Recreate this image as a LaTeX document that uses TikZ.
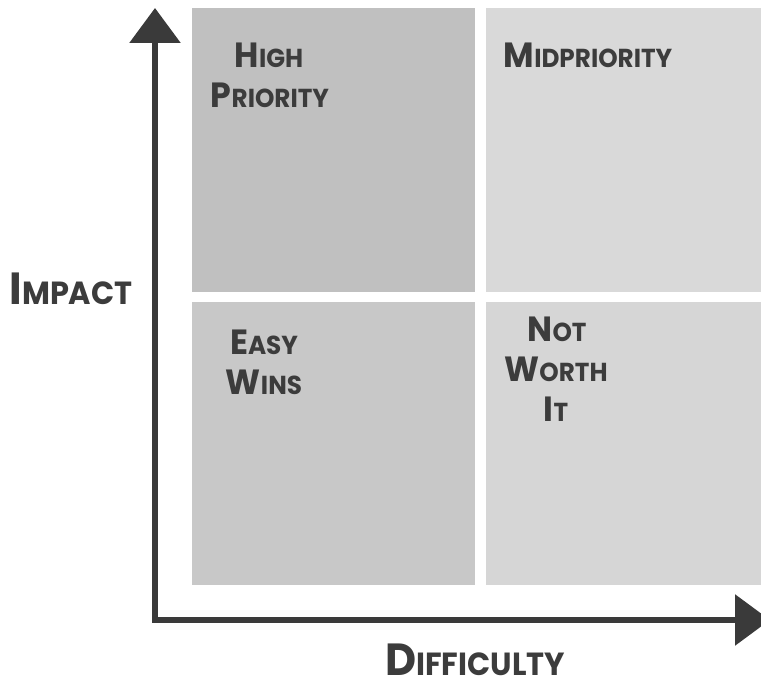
\documentclass[tikz,border=0pt]{standalone}
\usepackage{fontspec}
\setmainfont{Poppins}[BoldFeatures={FakeStretch=0.95}]
\usetikzlibrary{arrows.meta}
\definecolor{qA}{HTML}{C0C0C0}
\definecolor{qB}{HTML}{D9D9D9}
\definecolor{qC}{HTML}{C8C8C8}
\definecolor{qD}{HTML}{D6D6D6}
\definecolor{axisc}{HTML}{3A3A3A}
\definecolor{txtc}{HTML}{3C3C3C}
\newcommand\qsc[2]{{\fontsize{35}{40}\selectfont #1}{\fontsize{26}{30}\selectfont #2}}
\newcommand\asc[2]{{\fontsize{45}{50}\selectfont #1}{\fontsize{32}{38}\selectfont #2}}
\tikzset{
  quad/.style={rectangle, draw=none, inner sep=0pt, outer sep=0pt},
  lbl/.style={anchor=base, inner sep=0pt, text=txtc, font=\bfseries},
  axisline/.style={line width=6pt, draw=axisc, line join=miter,
    {Triangle[width=50pt,length=35pt]}-{Triangle[width=50pt,length=35pt]}}
}
\begin{document}
\begin{tikzpicture}[x=1pt,y=1pt]
\useasboundingbox (0,0) rectangle (761,688);
\node[quad, fill=qA, minimum width=283pt, minimum height=284pt] (hp) at (333.5,538) {};
\node[quad, fill=qB, minimum width=289pt, minimum height=284pt] (mp) at (630.5,538) {};
\node[quad, fill=qC, minimum width=283pt, minimum height=283pt] (ew) at (333.5,244.5) {};
\node[quad, fill=qD, minimum width=289pt, minimum height=283pt] (nw) at (630.5,244.5) {};
\coordinate (ytip) at (155,680);
\coordinate (corner) at (155,68);
\coordinate (xtip) at (770,68);
\draw[axisline] (ytip) -- (corner) -- (xtip);
\node[lbl] (hp1) at (269,620) {\qsc{H}{IGH}};
\node[lbl] (hp2) at (270,580) {\qsc{P}{RIORITY}};
\node[lbl] (mp1) at (588,620) {\qsc{M}{IDPRIORITY}};
\node[lbl] (ew1) at (264,333) {\qsc{E}{ASY}};
\node[lbl] (ew2) at (264,293) {\qsc{W}{INS}};
\node[lbl] (nw1) at (557,346) {\qsc{N}{OT}};
\node[lbl] (nw2) at (556,306) {\qsc{W}{ORTH}};
\node[lbl] (nw3) at (556,266) {\qsc{I}{T}};
\node[lbl] (imp) at (71,383) {\asc{I}{MPACT}};
\node[lbl] (dif) at (475,12) {\asc{D}{IFFICULTY}};
\end{tikzpicture}
\end{document}
